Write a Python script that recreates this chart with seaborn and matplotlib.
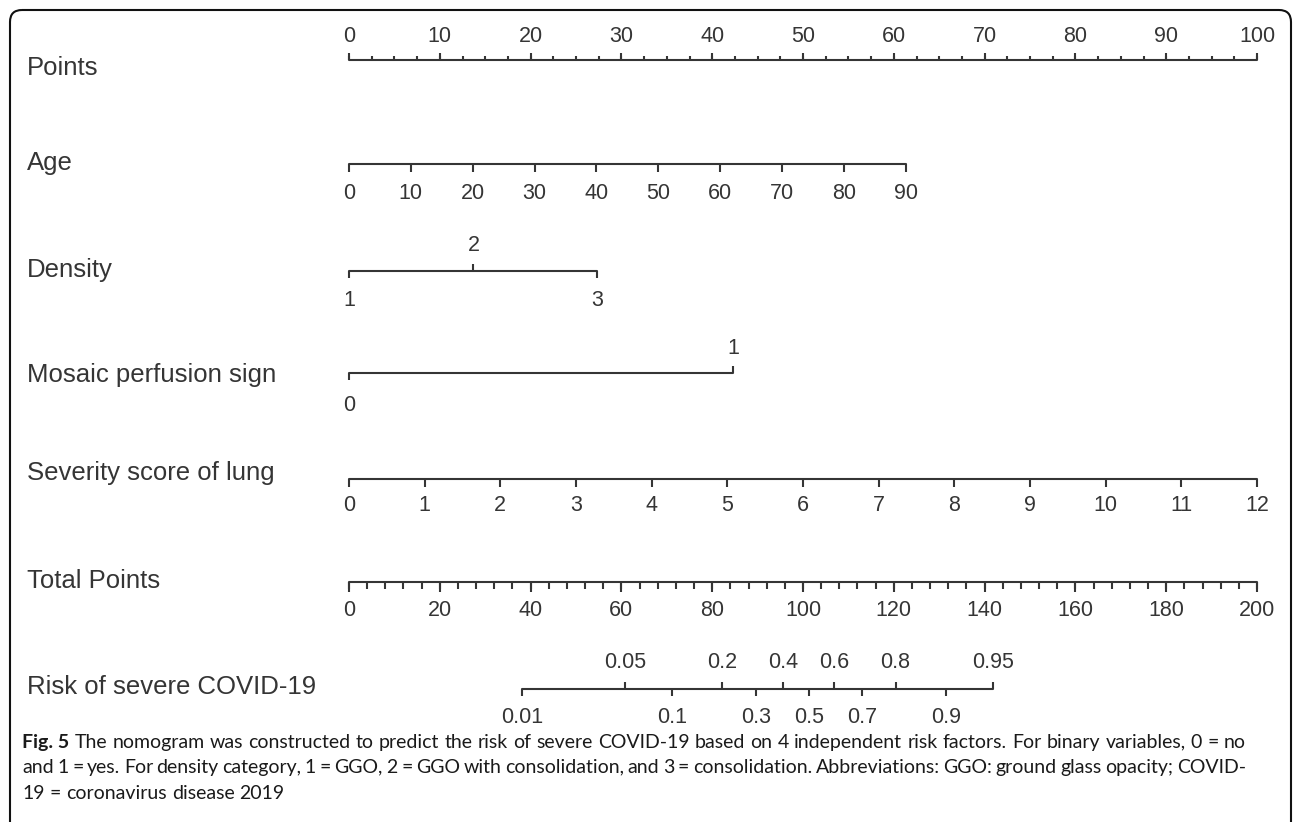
import numpy as np
import pandas as pd
import matplotlib
matplotlib.use("Agg")
import matplotlib.pyplot as plt
from matplotlib.patches import FancyBboxPatch
import seaborn as sns

# ---- values ----
points_major = list(range(0, 101, 10))
points_minor = [i * 2.5 for i in range(41)]

age_values = [0, 10, 20, 30, 40, 50, 60, 70, 80, 90]
age_max_points = 61.3            # points for age 90

density_values = [1, 2, 3]
density_points = [0, 13.7, 27.3]

mosaic_values = [0, 1]
mosaic_points = [0, 42.3]

severity_values = list(range(13))
severity_max_points = 100.0      # points for score 12

total_major = list(range(0, 201, 20))
total_minor = list(range(0, 201, 4))

risk_values = ["0.01", "0.05", "0.1", "0.2", "0.3", "0.4", "0.5", "0.6", "0.7", "0.8", "0.9", "0.95"]
risk_total_points = [38.1, 60.8, 71.1, 82.2, 89.6, 95.7, 101.3, 106.9, 113.0, 120.4, 131.5, 141.8]
risk_side = ["down", "up", "down", "up", "down", "up", "down", "up", "down", "up", "down", "up"]

row_names = ["Points", "Age", "Density", "Mosaic perfusion sign",
             "Severity score of lung", "Total Points", "Risk of severe COVID-19"]

caption = [
    ("Fig. 5", "The nomogram was constructed to predict the risk of severe COVID-19 based on 4 independent risk factors. For binary variables, 0 = no"),
    ("", "and 1 = yes. For density category, 1 = GGO, 2 = GGO with consolidation, and 3 = consolidation. Abbreviations: GGO: ground glass opacity; COVID-"),
    ("", "19 = coronavirus disease 2019"),
]

# ---- layout (pixels) ----
W, H = 1295, 822
X0, PX_PER_PT = 349, 9.08
name_x = 27
name_y = [68, 163, 270, 375, 473, 581, 687]
line_y = [60, 164, 271, 373, 479, 582, 689]
INK = "#353535"
TICK_FS = 15.5
NAME_FS = 18.5
CAP_FS = 14.0


def px2pt(px):
    return (px - X0) / PX_PER_PT


sns.set_theme(style="white")
plt.rcParams["font.family"] = ["Liberation Sans", "DejaVu Sans"]

fig = plt.figure(figsize=(W / 100, H / 100), dpi=100)
ax = fig.add_axes([0, 0, 1, 1])
ax.set_xlim(px2pt(0), px2pt(W))
ax.set_ylim(H, 0)
ax.axis("off")

# scale positions in points
age_pts = np.interp(age_values, [0, 90], [0, age_max_points])
sev_pts = np.interp(severity_values, [0, 12], [0, severity_max_points])
total_to_pts = lambda v: np.asarray(v, dtype=float) / 2.0
risk_pts = total_to_pts(risk_total_points)

# base lines of every scale
segs = pd.DataFrame({
    "axis": np.repeat(row_names, 2),
    "x": [0, 100, 0, age_pts[-1], 0, density_points[-1], 0, mosaic_points[-1],
          0, sev_pts[-1], 0, 100, risk_pts[0], risk_pts[-1]],
    "y": np.repeat(line_y, 2),
})
sns.lineplot(data=segs, x="x", y="y", units="axis", estimator=None, sort=False,
             color=INK, linewidth=1.5, ax=ax, legend=False)


def ticks(xs, y, length, up):
    y2 = y - length if up else y + length
    ax.vlines(xs, y, y2, color=INK, linewidth=1.5)


def labels(xs, texts, y):
    for x, t in zip(xs, texts):
        ax.text(x, y, str(t), ha="center", va="center", fontsize=TICK_FS, color=INK)


# Points
ticks(points_minor, line_y[0], 3.5, True)
ticks(points_major, line_y[0], 7, True)
labels(points_major, points_major, 37)

# Age
ticks(age_pts, line_y[1], 8, False)
labels(age_pts, age_values, 193)

# Density
ticks([density_points[0], density_points[2]], line_y[2], 7, False)
ticks([density_points[1]], line_y[2], 7, True)
labels([density_points[1]], [density_values[1]], 245)
labels([density_points[0], density_points[2]], [density_values[0], density_values[2]], 300)

# Mosaic perfusion sign
ticks([mosaic_points[0]], line_y[3], 7, False)
ticks([mosaic_points[1]], line_y[3], 7, True)
labels([mosaic_points[1]], [mosaic_values[1]], 348)
labels([mosaic_points[0]], [mosaic_values[0]], 405)

# Severity score of lung
ticks(sev_pts, line_y[4], 8, False)
labels(sev_pts, severity_values, 505)

# Total Points
ticks(total_to_pts(total_minor), line_y[5], 6.5, False)
ticks(total_to_pts(total_major), line_y[5], 10, False)
labels(total_to_pts(total_major), total_major, 610)

# Risk
up_x = [x for x, s in zip(risk_pts, risk_side) if s == "up"]
dn_x = [x for x, s in zip(risk_pts, risk_side) if s == "down"]
ticks(up_x, line_y[6], 7, True)
ticks(dn_x, line_y[6], 7, False)
labels(up_x, [v for v, s in zip(risk_values, risk_side) if s == "up"], 662)
labels(dn_x, [v for v, s in zip(risk_values, risk_side) if s == "down"], 717)

# row names
for name, y in zip(row_names, name_y):
    ax.text(px2pt(name_x), y, name, ha="left", va="center", fontsize=NAME_FS, color=INK)

# frame and caption in pixel coordinates
ov = fig.add_axes([0, 0, 1, 1], facecolor="none")
ov.set_xlim(0, W)
ov.set_ylim(H, 0)
ov.axis("off")
ov.add_patch(FancyBboxPatch((10, 10), 1281, 900, boxstyle="round,pad=0,rounding_size=12",
                            fill=False, edgecolor="#111111", linewidth=1.5, clip_on=False))

cap_font = ["Lato", "Liberation Sans", "DejaVu Sans"]
cap_y = [742, 767, 793]
cap_left, cap_right = 22, 1246
cap_justify = [True, True, False]
fig.canvas.draw()
renderer = fig.canvas.get_renderer()


def word_width(word, bold=False):
    t = ov.text(0, 0, word, fontsize=CAP_FS, family=cap_font,
                fontweight="bold" if bold else "normal")
    w = t.get_window_extent(renderer).width
    t.remove()
    return w


space_w = 0.26 * CAP_FS * 100 / 72
for (bold, rest), y, just in zip(caption, cap_y, cap_justify):
    words = ([(bold, True)] if bold else []) + [(w, False) for w in rest.split(" ")]
    widths = [word_width(w, b) for w, b in words]
    gap = space_w
    if just and len(words) > 1:
        gap = (cap_right - cap_left - sum(widths)) / (len(words) - 1)
    x = cap_left
    for (w, b), ww in zip(words, widths):
        ov.text(x, y, w, ha="left", va="center", fontsize=CAP_FS, family=cap_font,
                fontweight="bold" if b else "normal", color="#1a1a1a")
        x += ww + gap

fig.savefig("out.png", dpi=100)
